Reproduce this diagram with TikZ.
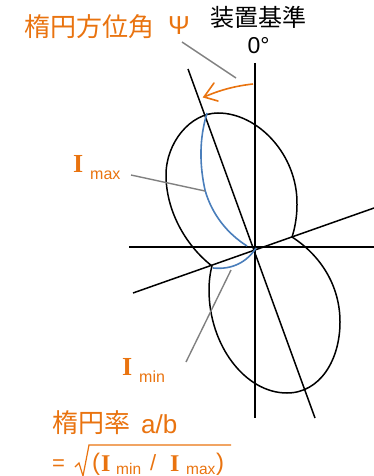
\documentclass[tikz,border=0pt]{standalone}
\usepackage{fontspec}
\setmainfont{Liberation Sans}
\newfontfamily\cjk{Noto Sans CJK JP}
\newfontfamily\serf{Liberation Serif}
\definecolor{org}{HTML}{E9730F}
\definecolor{blu}{HTML}{4A7EBB}
\definecolor{gry}{HTML}{808080}
\tikzset{
  axis/.style={draw=black,line width=1.5pt},
  lobe/.style={draw=black,line width=1.5pt},
  arcline/.style={draw=blu,line width=1.6pt},
  leader/.style={draw=gry,line width=1.4pt},
  otext/.style={text=org,inner sep=0pt,anchor=base west},
  btext/.style={text=black,inner sep=0pt,anchor=base},
  bigI/.style={otext,font=\serf\bfseries\fontsize{26}{26}\selectfont},
  midI/.style={otext,font=\serf\bfseries\fontsize{24}{24}\selectfont},
  subtxt/.style={otext,font=\fontsize{16}{16}\selectfont}
}
\begin{document}
\begin{tikzpicture}[x=1pt,y=-1pt]
\useasboundingbox (0,0) rectangle (374,476);
% axes
\coordinate (vt) at (255,63); \coordinate (vb) at (255,418);
\coordinate (hl) at (129,247); \coordinate (hr) at (374,247);
\coordinate (tt) at (188,69); \coordinate (tb) at (315,418);
\coordinate (cl) at (133,293); \coordinate (cr) at (374,208);
\path[axis] (vt) -- (vb);
\path[axis] (hl) -- (hr);
\path[axis] (tt) -- (tb);
\path[axis] (cl) -- (cr);
% lobes
\draw[lobe] (292,237) .. controls (295,228) and (297,216) .. (297,205)
  .. controls (298,155) and (258,113) .. (218,113)
  .. controls (190,113) and (166,143) .. (166,175)
  .. controls (166,210) and (185,245) .. (212,266);
\draw[lobe] (212,266) .. controls (210,273) and (209,282) .. (209,290)
  .. controls (209,345) and (245,393) .. (287,393)
  .. controls (320,393) and (340,360) .. (340,322)
  .. controls (340,285) and (320,255) .. (292,237);
% blue arcs
\draw[arcline] (207,113) .. controls (201,133) and (198,158) .. (205,190)
  .. controls (212,215) and (228,234) .. (247,246);
\draw[arcline] (256,248) .. controls (247,262) and (232,270) .. (213,268);
% orange arrow
\coordinate (aS) at (253,84); \coordinate (aE) at (204,97);
\draw[org,line width=1.6pt] (aS) .. controls (235,86) and (220,90) .. (aE);
\draw[org,line width=1.6pt,line cap=round] (214,83) -- (aE) -- (218,101);
% labels
\node[otext,font=\cjk\fontsize{26}{26}\selectfont] (ttl) at (24,37) {楕円方位角};
\node[otext,font=\fontsize{26}{26}\selectfont] (psi) at (168,35) {Ψ};
\node[btext,font=\cjk\fontsize{24}{24}\selectfont] (dev) at (258.5,27) {装置基準};
\node[btext,font=\fontsize{23}{23}\selectfont] (deg) at (258.5,54) {0°};
\node[bigI] (imax) at (73,172) {I};
\node[subtxt] (imaxs) at (90,179) {max};
\node[bigI] (imin) at (122,375) {I};
\node[subtxt] (imins) at (139,382) {min};
\node[otext,font=\cjk\fontsize{26}{26}\selectfont] (rate) at (52,432) {楕円率};
\node[otext,font=\fontsize{26}{26}\selectfont] (ab) at (141,433) {a/b};
\node[otext,font=\fontsize{22}{22}\selectfont] (eq) at (52,470) {=};
\node[otext,font=\fontsize{24}{24}\selectfont] (lp) at (92,470) {(};
\node[midI] (i1) at (101,471) {I};
\node[otext,font=\fontsize{15.5}{15.5}\selectfont] (s1) at (116,474) {min};
\node[otext,font=\fontsize{22}{22}\selectfont] (sl) at (150,470) {/};
\node[midI] (i2) at (170,471) {I};
\node[otext,font=\fontsize{15.5}{15.5}\selectfont] (s2) at (186,474) {max};
\node[otext,font=\fontsize{24}{24}\selectfont] (rp) at (216,470) {)};
% radical
\coordinate (r1) at (75,467); \coordinate (r2) at (79,463); \coordinate (r3) at (83,476);
\coordinate (r4) at (89,445); \coordinate (r5) at (231,445);
\draw[org,line width=1.2pt] (r1) -- (r2) -- (r3) -- (r4) -- (r5);
% leaders
\coordinate (p1) at (182,42); \coordinate (p2) at (236,78);
\coordinate (m1) at (131,175); \coordinate (m2) at (205,191);
\coordinate (n1) at (186,362); \coordinate (n2) at (231,270);
\path[leader] (p1) -- (p2);
\path[leader] (m1) -- (m2);
\path[leader] (n1) -- (n2);
\end{tikzpicture}
\end{document}
